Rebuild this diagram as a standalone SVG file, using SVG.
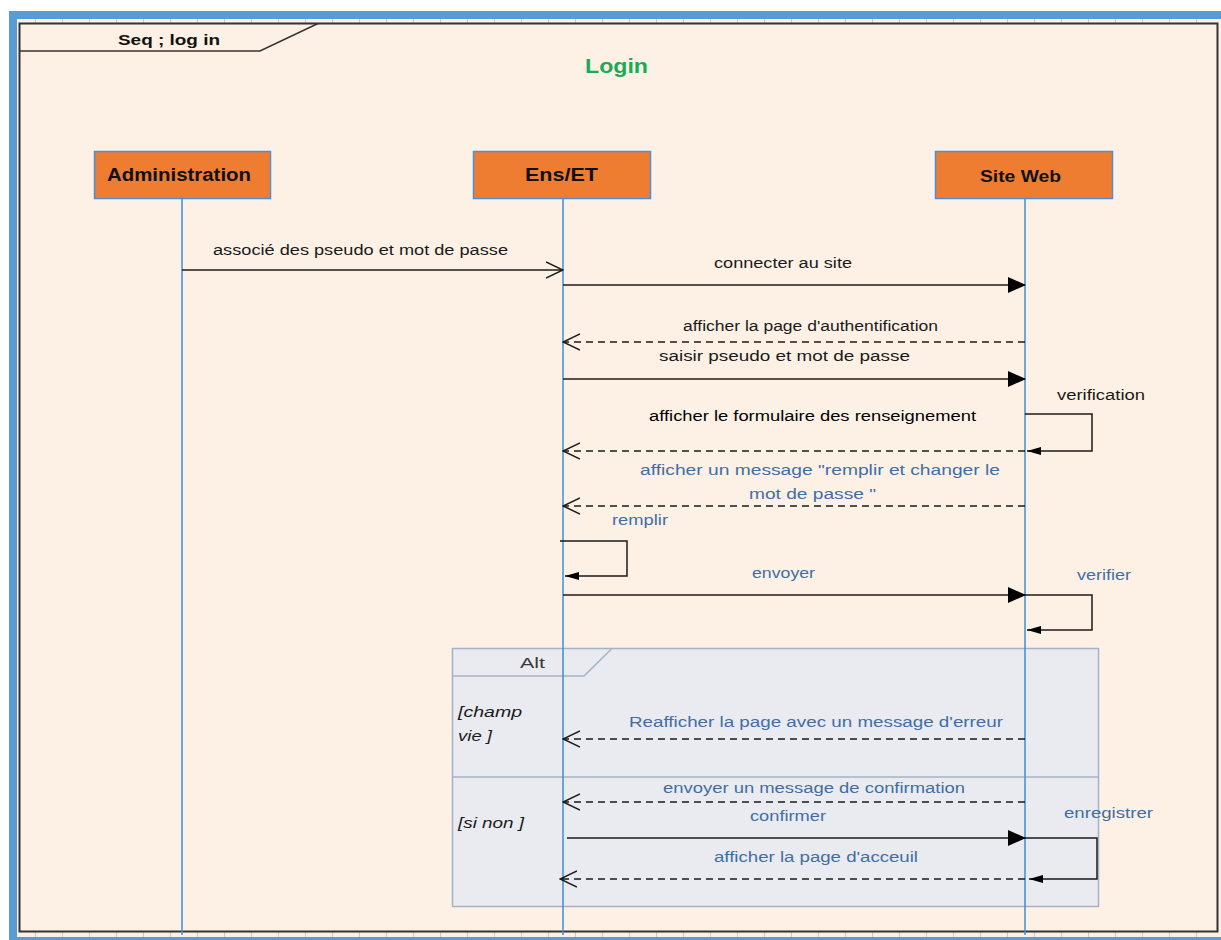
<svg xmlns="http://www.w3.org/2000/svg" width="1221" height="940" viewBox="0 0 1221 940">
  <defs>
    <style>
      .lbl { font-family: "Liberation Sans", Arial, sans-serif; font-size: 14px; fill: #1a1a1a; }
      .blue { fill: #3f6ea6; }
      .guard { font-family: "Liberation Sans", Arial, sans-serif; font-size: 14px; font-style: italic; fill: #1a1a1a; }
      .actor { font-family: "Liberation Sans", Arial, sans-serif; font-weight: bold; fill: #111; }
      .box { fill: #ee7d32; stroke: #4a90d9; stroke-width: 1.5; }
      .life { stroke: #3b8edb; stroke-width: 1.5; fill: none; }
      .msg { stroke: #1a1a1a; stroke-width: 1.5; fill: none; }
      .ret { stroke: #1a1a1a; stroke-width: 1.5; fill: none; stroke-dasharray: 7 5; }
    </style>
    <marker id="filled" markerWidth="18" markerHeight="16" refX="17" refY="8" orient="auto" markerUnits="userSpaceOnUse">
      <path d="M0,0 L18,8 L0,16 Z" fill="#000"/>
    </marker>
    <marker id="small" markerWidth="14" markerHeight="8" refX="14" refY="4" orient="auto" markerUnits="userSpaceOnUse">
      <path d="M0,0 L14,4 L0,8 Z" fill="#000"/>
    </marker>
    <marker id="open" markerWidth="18" markerHeight="18" refX="17" refY="9" orient="auto" markerUnits="userSpaceOnUse">
      <path d="M0,1 L17,9 L0,17" fill="none" stroke="#1a1a1a" stroke-width="1.5"/>
    </marker>
    <pattern id="ticks" width="27" height="6" patternUnits="userSpaceOnUse" x="8" y="0">
      <line x1="0.5" y1="0" x2="0.5" y2="6" stroke="#c9c9c9" stroke-width="1"/>
    </pattern>
  </defs>

  <!-- page -->
  <rect x="0" y="0" width="1221" height="940" fill="#ffffff"/>
  <rect x="9" y="11" width="1212" height="929" fill="#5b9bd5"/>
  <rect x="17" y="19" width="1204" height="918" fill="#fdf1e6"/>
  <rect x="17" y="19" width="1204" height="4" fill="url(#ticks)"/>
  <rect x="17" y="932" width="1204" height="5" fill="url(#ticks)"/>

  <!-- sequence frame -->
  <g id="frame">
    <rect x="19.5" y="23.5" width="1198" height="908" fill="none" stroke="#333" stroke-width="2"/>
    <path d="M19.5,51 L260,51 L318,23.5" fill="none" stroke="#333" stroke-width="1.5"/>
    <text x="118" y="45" class="actor" font-size="15" textLength="102" lengthAdjust="spacingAndGlyphs">Seq ; log in</text>
    <text x="585" y="73" font-family="Liberation Sans, Arial, sans-serif" font-weight="bold" font-size="20" fill="#1aab55" textLength="63" lengthAdjust="spacingAndGlyphs">Login</text>
  </g>

  <!-- alt fragment -->
  <g id="alt">
    <rect x="452.5" y="648.5" width="646" height="258" fill="#e9ebf0" stroke="#a5b2c6" stroke-width="1.5"/>
    <path d="M452.5,676 L584,676 L612,648.5" fill="none" stroke="#a5b2c6" stroke-width="1.5"/>
    <line x1="452.5" y1="777" x2="1098.5" y2="777" stroke="#a5b2c6" stroke-width="1.5"/>
    <text x="520" y="668" class="lbl" style="fill:#3a3a3a" textLength="25" lengthAdjust="spacingAndGlyphs">Alt</text>
    <text x="458" y="717" class="guard" textLength="64" lengthAdjust="spacingAndGlyphs">[champ</text>
    <text x="458" y="741" class="guard" textLength="34" lengthAdjust="spacingAndGlyphs">vie ]</text>
    <text x="458" y="828" class="guard" textLength="66" lengthAdjust="spacingAndGlyphs">[si non ]</text>
  </g>

  <!-- lifelines -->
  <g id="administration">
    <line x1="182" y1="198" x2="182" y2="935" class="life"/>
    <rect x="94.5" y="151.5" width="176" height="47" class="box"/>
    <text x="107" y="181" class="actor" font-size="18" textLength="144" lengthAdjust="spacingAndGlyphs">Administration</text>
  </g>
  <g id="ens-et">
    <line x1="563" y1="198" x2="563" y2="935" class="life"/>
    <rect x="473.5" y="151.5" width="177" height="47" class="box"/>
    <text x="525" y="181" class="actor" font-size="18" textLength="73" lengthAdjust="spacingAndGlyphs">Ens/ET</text>
  </g>
  <g id="site-web">
    <line x1="1025" y1="198" x2="1025" y2="935" class="life"/>
    <rect x="935.5" y="151.5" width="177" height="47" class="box"/>
    <text x="980" y="182" class="actor" font-size="16" textLength="81" lengthAdjust="spacingAndGlyphs">Site Web</text>
  </g>

  <!-- messages -->
  <g id="connectors">
    <line x1="182" y1="270" x2="563" y2="270" class="msg" marker-end="url(#open)"/>
    <line x1="563" y1="285" x2="1025" y2="285" class="msg" marker-end="url(#filled)"/>
    <line x1="1025" y1="342" x2="563" y2="342" class="ret" marker-end="url(#open)"/>
    <line x1="563" y1="379" x2="1025" y2="379" class="msg" marker-end="url(#filled)"/>
    <path d="M1025,414 L1092,414 L1092,451 L1027,451" class="msg" marker-end="url(#small)"/>
    <line x1="1025" y1="451" x2="563" y2="451" class="ret" marker-end="url(#open)"/>
    <line x1="1025" y1="506" x2="563" y2="506" class="ret" marker-end="url(#open)"/>
    <path d="M560,541 L627,541 L627,576 L565,576" class="msg" marker-end="url(#small)"/>
    <line x1="563" y1="595" x2="1025" y2="595" class="msg" marker-end="url(#filled)"/>
    <path d="M1025,595 L1092,595 L1092,630 L1027,630" class="msg" marker-end="url(#small)"/>
    <line x1="1025" y1="739" x2="563" y2="739" class="ret" marker-end="url(#open)"/>
    <line x1="1025" y1="802" x2="563" y2="802" class="ret" marker-end="url(#open)"/>
    <line x1="567" y1="838" x2="1025" y2="838" class="msg" marker-end="url(#filled)"/>
    <path d="M1025,838 L1097,838 L1097,879 L1029,879" class="msg" marker-end="url(#small)"/>
    <line x1="1025" y1="879" x2="560" y2="879" class="ret" marker-end="url(#open)"/>
  </g>

  <!-- message labels -->
  <g id="labels">
    <text x="213" y="255" class="lbl" textLength="295" lengthAdjust="spacingAndGlyphs">associé des pseudo et mot de passe</text>
    <text x="714" y="268" class="lbl" textLength="138" lengthAdjust="spacingAndGlyphs">connecter au  site</text>
    <text x="683" y="331" class="lbl" textLength="255" lengthAdjust="spacingAndGlyphs">afficher la page d'authentification</text>
    <text x="659" y="361" class="lbl" textLength="251" lengthAdjust="spacingAndGlyphs">saisir pseudo et mot de passe</text>
    <text x="1057" y="400" class="lbl" textLength="88" lengthAdjust="spacingAndGlyphs">verification</text>
    <text x="649" y="421" class="lbl" font-size="16" style="fill:#000" textLength="327" lengthAdjust="spacingAndGlyphs">afficher le formulaire des renseignement</text>
    <text x="640" y="475" class="lbl blue" font-size="15" textLength="360" lengthAdjust="spacingAndGlyphs">afficher un message "remplir et changer le</text>
    <text x="749" y="499" class="lbl blue" font-size="15" textLength="127" lengthAdjust="spacingAndGlyphs">mot de passe "</text>
    <text x="612" y="525" class="lbl blue" font-size="15" textLength="56" lengthAdjust="spacingAndGlyphs">remplir</text>
    <text x="752" y="578" class="lbl blue" font-size="15" textLength="63" lengthAdjust="spacingAndGlyphs">envoyer</text>
    <text x="1077" y="580" class="lbl blue" font-size="15" textLength="54" lengthAdjust="spacingAndGlyphs">verifier</text>
    <text x="629" y="727" class="lbl blue" font-size="15" textLength="374" lengthAdjust="spacingAndGlyphs">Reafficher la page avec un  message d'erreur</text>
    <text x="663" y="793" class="lbl blue" font-size="15" textLength="302" lengthAdjust="spacingAndGlyphs">envoyer un message de confirmation</text>
    <text x="750" y="821" class="lbl blue" font-size="15" textLength="76" lengthAdjust="spacingAndGlyphs">confirmer</text>
    <text x="1064" y="818" class="lbl blue" font-size="15" textLength="89" lengthAdjust="spacingAndGlyphs">enregistrer</text>
    <text x="714" y="862" class="lbl blue" font-size="15" textLength="204" lengthAdjust="spacingAndGlyphs">afficher la page d'acceuil</text>
  </g>
</svg>
